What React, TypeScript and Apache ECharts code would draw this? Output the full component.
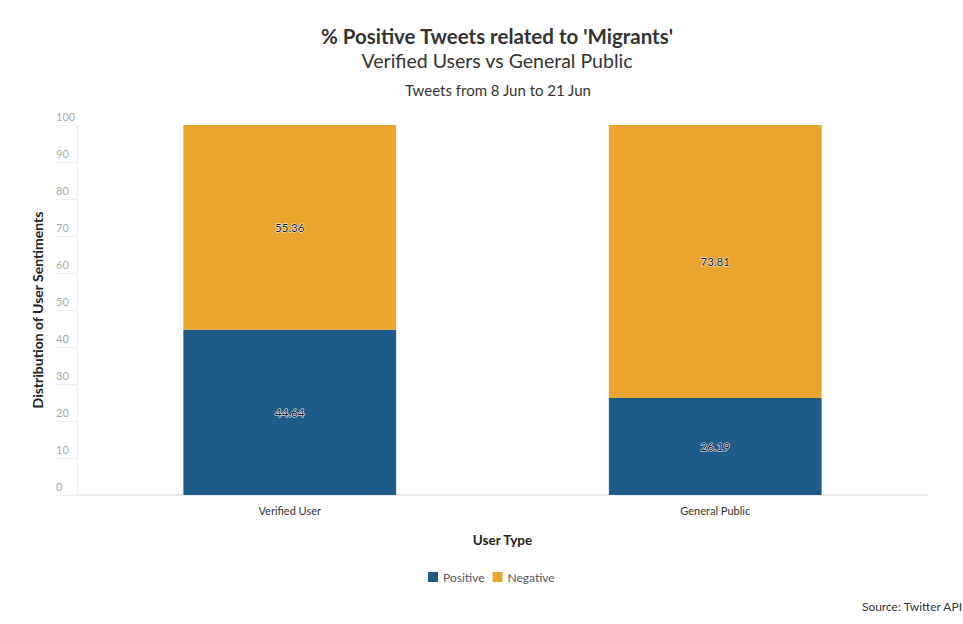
import React, { useEffect, useRef } from "react";
import * as echarts from "echarts";

const categories = ["Verified User", "General Public"];
const positiveValues = [44.64, 26.19];
const negativeValues = [55.36, 73.81];
const seriesNames = ["Positive", "Negative"];

const FONT = "Lato, 'Open Sans', sans-serif";

export default function App() {
  const ref = useRef<HTMLDivElement>(null);
  useEffect(() => {
    if (!ref.current) return;
    const chart = echarts.init(ref.current, undefined, { renderer: "svg" });
    const labelStyle = {
      show: true,
      position: "inside",
      color: "#111",
      fontSize: 11.5,
      fontFamily: FONT,
      textBorderColor: "#fff",
      textBorderWidth: 1,
      formatter: (p: any) => p.value.toFixed(2),
    };
    chart.setOption({
      animation: false,
      backgroundColor: "#fff",
      textStyle: { fontFamily: FONT },
      title: [
        {
          text: "% Positive Tweets related to 'Migrants'",
          left: 492,
          textAlign: "center",
          top: 20,
          textStyle: { fontSize: 20.5, fontWeight: "bold", color: "#333", fontFamily: FONT },
        },
        {
          text: "Verified Users vs General Public",
          left: 492,
          textAlign: "center",
          top: 45,
          textStyle: { fontSize: 19.5, fontWeight: "normal", color: "#333", fontFamily: FONT },
        },
        {
          text: "Tweets from 8 Jun to 21 Jun",
          left: 493,
          textAlign: "center",
          top: 77,
          textStyle: { fontSize: 15, fontWeight: "normal", color: "#333", fontFamily: FONT },
        },
      ],
      legend: {
        data: seriesNames,
        bottom: 36,
        left: 423,
        itemWidth: 10,
        itemHeight: 10,
        icon: "rect",
        itemGap: 8,
        textStyle: { fontSize: 12, color: "#555", fontFamily: FONT },
      },
      grid: { left: 77, right: 35, top: 125, bottom: 129 },
      xAxis: {
        type: "category",
        data: categories,
        name: "User Type",
        nameLocation: "middle",
        nameGap: 38,
        nameTextStyle: { fontSize: 13.5, fontWeight: "bold", color: "#222", fontFamily: FONT },
        axisLine: { show: true, lineStyle: { color: "#eeeeee", width: 2 } },
        axisTick: { show: false },
        axisLabel: { fontSize: 11, color: "#333", margin: 10, fontFamily: FONT },
      },
      yAxis: {
        type: "value",
        min: 0,
        max: 100,
        interval: 10,
        name: "Distribution of User Sentiments",
        nameLocation: "middle",
        nameGap: 33,
        nameTextStyle: { fontSize: 14, fontWeight: "bold", color: "#222", fontFamily: FONT },
        axisLine: { show: true, lineStyle: { color: "#eeeeee", width: 1 } },
        axisTick: { show: true, length: 21, lineStyle: { color: "#eeeeee" } },
        splitLine: { show: false },
        axisLabel: {
          fontSize: 11,
          color: "#aaa",
          align: "left",
          verticalAlign: "bottom",
          margin: 21,
          padding: [0, 0, 3, 0],
          fontFamily: FONT,
        },
      },
      series: [
        {
          name: seriesNames[0],
          type: "bar",
          stack: "total",
          barWidth: "50%",
          data: positiveValues,
          itemStyle: { color: "#1f5d88" },
          label: labelStyle,
        },
        {
          name: seriesNames[1],
          type: "bar",
          stack: "total",
          barWidth: "50%",
          data: negativeValues,
          itemStyle: { color: "#e9a52d" },
          label: labelStyle,
        },
      ],
      graphic: [
        {
          type: "text",
          right: 0,
          top: 600,
          style: { text: "Source: Twitter API", fontSize: 12, fill: "#333", fontFamily: FONT },
        },
      ],
    });
    return () => chart.dispose();
  }, []);
  return (
    <div
      ref={ref}
      style={{ position: "absolute", left: 0, top: 0, width: 963, height: 624 }}
    />
  );
}
